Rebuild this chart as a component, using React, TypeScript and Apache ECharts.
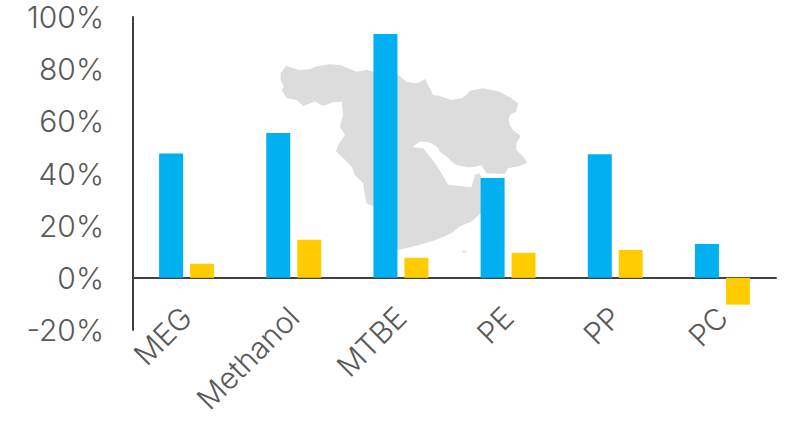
import React, { useEffect, useRef } from "react";
import * as echarts from "echarts";

const categories = ["MEG", "Methanol", "MTBE", "PE", "PP", "PC"];
const blueValues = [47.7, 55.5, 93.5, 38.3, 47.4, 13];
const yellowValues = [5.4, 14.6, 7.7, 9.6, 10.7, -10.3];

const mapOutline =
  "M62,70 L70,58 L78,47 L100,55 L118,60 L150,58 L165,50 L180,47 L210,43 L240,45 L265,55 L290,65 L320,60 L345,65 L415,75 L440,95 L465,100 L480,97 L495,87 L505,105 L520,135 L545,140 L575,150 L605,145 L620,135 L630,122 L670,115 L720,125 L755,145 L775,160 L770,185 L750,195 L747,210 L750,225 L760,240 L783,258 L770,280 L770,300 L790,320 L803,338 L780,348 L745,355 L735,372 L680,370 L665,345 L650,350 L625,352 L590,345 L575,335 L560,320 L545,310 L530,290 L510,278 L480,275 L457,292 L490,295 L510,320 L530,345 L545,370 L565,405 L610,410 L635,412 L645,375 L660,370 L665,385 L700,440 L663,490 L635,515 L600,530 L575,550 L530,570 L480,585 L420,600 L380,600 L342,470 L320,460 L312,420 L310,400 L285,375 L275,350 L250,325 L228,305 L235,285 L255,255 L240,230 L250,195 L245,155 L215,158 L190,168 L165,155 L130,168 L110,150 L80,145 L65,120 L72,110 L62,90 Z " +
  "M438,125 L446,126 L456,145 L452,152 L442,145 Z M605,603 L618,603 L621,608 L610,608 Z";

const MapShape = (echarts.graphic as any).extendPath(mapOutline, {});
echarts.graphic.registerShape("meMap", MapShape);

const fontFamily = "Inter, Lato, sans-serif";

export default function App() {
  const ref = useRef<HTMLDivElement>(null);
  useEffect(() => {
    const chart = echarts.init(ref.current!, undefined, { renderer: "svg" });
    chart.setOption({
      animation: false,
      backgroundColor: "#ffffff",
      grid: { left: 133, right: 21, top: 17, bottom: 93, outerBoundsMode: "none" },
      graphic: [
        {
          type: "meMap",
          x: 260,
          y: 50,
          scaleX: 1 / 3,
          scaleY: 1 / 3,
          z: 0,
          style: { fill: "#dcdcdc" },
        },
      ],
      xAxis: {
        type: "category",
        data: categories,
        axisLine: { onZero: true, lineStyle: { color: "#404040", width: 2 } },
        axisTick: { show: false },
        axisLabel: {
          rotate: 45,
          margin: -18,
          fontSize: 30,
          fontWeight: 300,
          color: "#595959",
          fontFamily,
          interval: 0,
        },
      },
      yAxis: {
        type: "value",
        min: -20,
        max: 100,
        interval: 20,
        axisLine: { show: true, lineStyle: { color: "#404040", width: 2 } },
        axisTick: { show: false },
        splitLine: { show: false },
        axisLabel: {
          formatter: "{value}%",
          margin: 29,
          fontSize: 30,
          fontWeight: 300,
          color: "#595959",
          fontFamily,
          lineHeight: 30,
          padding: [0, 0, 5, 0],
        },
      },
      series: [
        {
          type: "bar",
          data: blueValues,
          barWidth: 24,
          barGap: "29%",
          z: 2,
          itemStyle: { color: "#00b0f0" },
        },
        {
          type: "bar",
          data: yellowValues,
          barWidth: 24,
          z: 2,
          itemStyle: { color: "#ffcc00" },
        },
      ],
    });
    return () => chart.dispose();
  }, []);
  return (
    <div
      ref={ref}
      style={{ position: "fixed", left: 0, top: 0, width: 797, height: 423 }}
    />
  );
}
